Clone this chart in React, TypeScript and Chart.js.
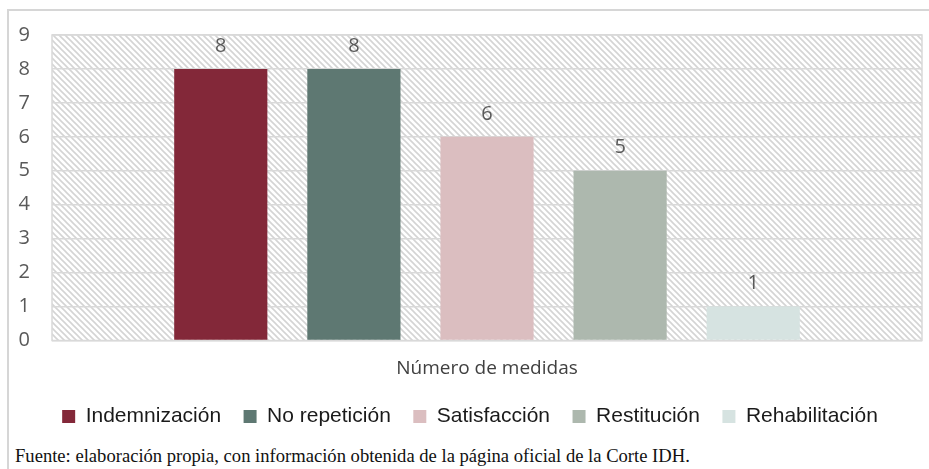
import React, { useEffect, useRef } from "react";
import { Chart, registerables } from "chart.js";

Chart.register(...registerables);

const categories = ["Número de medidas"];
const seriesNames = ["Indemnización", "No repetición", "Satisfacción", "Restitución", "Rehabilitación"];
const seriesValues = [8, 8, 6, 5, 1];
const seriesColors = ["#832839", "#5e7872", "#dbbec0", "#adb8ae", "#d6e3e1"];
const yTicks = [0, 1, 2, 3, 4, 5, 6, 7, 8, 9];
const caption = "Fuente: elaboración propia, con información obtenida de la página oficial de la Corte IDH.";

function makePattern(): CanvasPattern | string {
  const c = document.createElement("canvas");
  const s = 6;
  c.width = s;
  c.height = s;
  const g = c.getContext("2d");
  if (!g) return "#ffffff";
  g.fillStyle = "#ffffff";
  g.fillRect(0, 0, s, s);
  g.strokeStyle = "#d4d4d4";
  g.lineWidth = 1.6;
  g.beginPath();
  g.moveTo(-1, -1);
  g.lineTo(s + 1, s + 1);
  g.moveTo(-1, s - 1);
  g.lineTo(1, s + 1);
  g.moveTo(s - 1, -1);
  g.lineTo(s + 1, 1);
  g.stroke();
  const p = g.createPattern(c, "repeat");
  return p || "#ffffff";
}

const hatchPlugin = {
  id: "hatchBg",
  beforeDraw(chart: any) {
    const { ctx, chartArea } = chart;
    if (!chartArea) return;
    ctx.save();
    ctx.fillStyle = makePattern();
    ctx.fillRect(chartArea.left, chartArea.top, chartArea.right - chartArea.left, chartArea.bottom - chartArea.top);
    ctx.strokeStyle = "#d9d9d9";
    ctx.lineWidth = 1.5;
    ctx.strokeRect(chartArea.left, chartArea.top, chartArea.right - chartArea.left, chartArea.bottom - chartArea.top);
    ctx.restore();
  },
};

const valueLabelPlugin = {
  id: "valueLabels",
  afterDatasetsDraw(chart: any) {
    const { ctx } = chart;
    ctx.save();
    ctx.font = "20px 'Open Sans'";
    ctx.fillStyle = "#595959";
    ctx.textAlign = "center";
    ctx.textBaseline = "middle";
    chart.data.datasets.forEach((ds: any, i: number) => {
      const meta = chart.getDatasetMeta(i);
      meta.data.forEach((bar: any, j: number) => {
        ctx.fillText(String(ds.data[j]), bar.x, bar.y - 23);
      });
    });
    ctx.restore();
  },
};

export default function App() {
  const ref = useRef<HTMLCanvasElement | null>(null);

  useEffect(() => {
    if (!ref.current) return;
    const chart = new Chart(ref.current, {
      type: "bar",
      data: {
        labels: categories,
        datasets: seriesNames.map((name, i) => ({
          label: name,
          data: [seriesValues[i]],
          backgroundColor: seriesColors[i],
          borderWidth: 0,
          categoryPercentage: 0.765,
          barPercentage: 0.7,
        })),
      },
      options: {
        animation: false,
        responsive: false,
        maintainAspectRatio: false,
        layout: { padding: { top: 35, right: 7, bottom: 3, left: 18 } },
        plugins: {
          legend: {
            position: "bottom",
            labels: {
              boxWidth: 13,
              boxHeight: 13,
              padding: 22.5,
              color: "#1a1a1a",
              font: { family: "'Liberation Sans'", size: 21 },
            },
          },
          tooltip: { enabled: false },
        },
        scales: {
          x: {
            grid: { display: false, drawTicks: false },
            border: { display: false },
            ticks: {
              color: "#404040",
              padding: 17,
              font: { family: "'Open Sans'", size: 19 },
            },
            afterFit: (scale: any) => {
              scale.height = 43;
            },
          },
          y: {
            min: 0,
            max: 9,
            afterBuildTicks: (scale: any) => {
              scale.ticks = yTicks.map((v) => ({ value: v }));
            },
            grid: { color: "#d9d9d9", lineWidth: 1.5, drawTicks: false },
            border: { display: false },
            ticks: {
              color: "#595959",
              padding: 22,
              font: { family: "'Open Sans'", size: 20 },
            },
            afterFit: (scale: any) => {
              scale.width = 34;
            },
          },
        },
      },
      plugins: [hatchPlugin, valueLabelPlugin],
    });
    return () => chart.destroy();
  }, []);

  return (
    <div style={{ position: "absolute", left: 0, top: 0, width: 929, height: 469, background: "#fff", overflow: "hidden" }}>
      <div style={{ position: "absolute", left: 7, top: 9, width: 922, height: 2, background: "#d6d6d6" }} />
      <div style={{ position: "absolute", left: 7, top: 9, width: 2, height: 460, background: "#d6d6d6" }} />
      <canvas ref={ref} width={929} height={440} style={{ position: "absolute", left: 0, top: 0 }} />
      <div
        style={{
          position: "absolute",
          left: 15,
          top: 445,
          fontFamily: "'Liberation Serif', serif",
          fontSize: 18.6,
          color: "#111",
          whiteSpace: "nowrap",
          lineHeight: "22px",
        }}
      >
        {caption}
      </div>
    </div>
  );
}
